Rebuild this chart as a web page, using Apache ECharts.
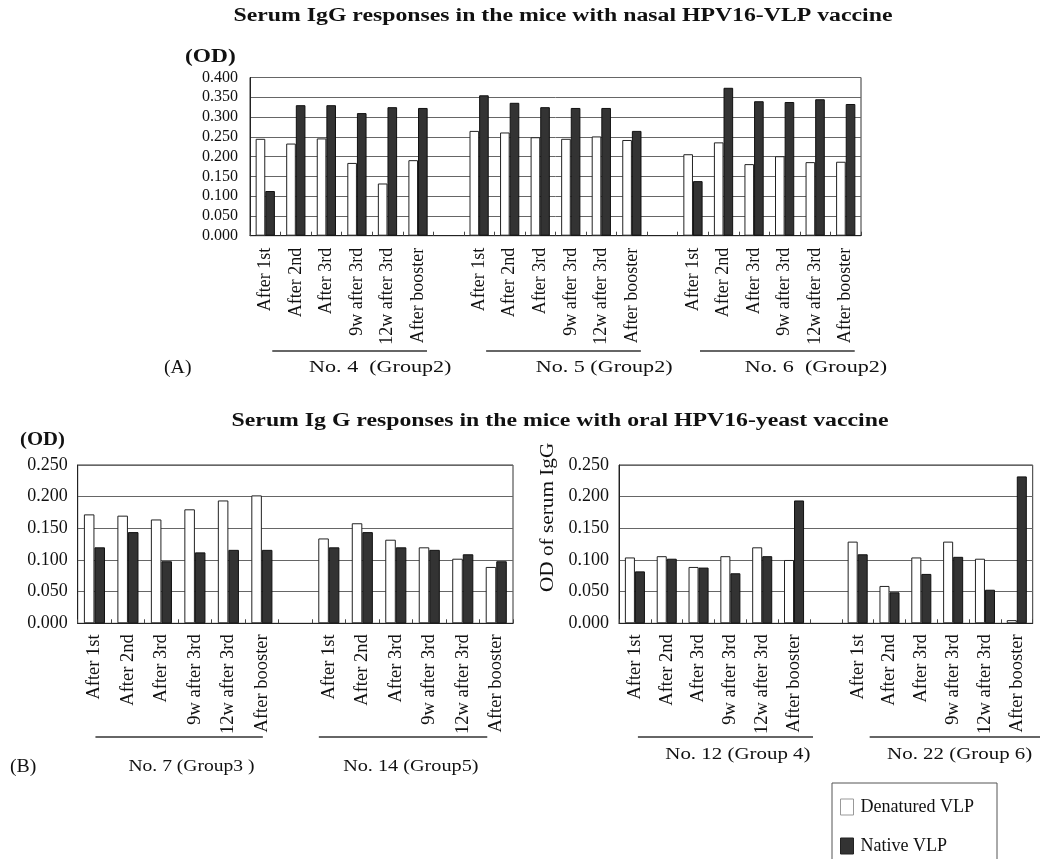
<!DOCTYPE html>
<html>
<head>
<meta charset="utf-8">
<script src="https://cdn.jsdelivr.net/npm/echarts@6/dist/echarts.min.js"></script>
<style>
  html, body { margin: 0; padding: 0; background: #fff; }
  #chart { width: 1040px; height: 859px; }
</style>
</head>
<body>
<div id="chart"></div>
<script>
// time points on every x axis
var timepoints = ['After 1st', 'After 2nd', 'After 3rd', '9w after 3rd', '12w after 3rd', 'After booster'];

// (A) nasal HPV16-VLP vaccine
var no4Denatured = [0.245, 0.233, 0.246, 0.184, 0.132, 0.191];
var no4Native    = [0.113, 0.330, 0.330, 0.310, 0.325, 0.323];
var no5Denatured = [0.265, 0.261, 0.249, 0.245, 0.251, 0.242];
var no5Native    = [0.355, 0.336, 0.325, 0.323, 0.323, 0.265];
var no6Denatured = [0.206, 0.236, 0.181, 0.201, 0.186, 0.187];
var no6Native    = [0.138, 0.374, 0.340, 0.338, 0.345, 0.333];

// (B) oral HPV16-yeast vaccine
var no7Denatured  = [0.172, 0.170, 0.164, 0.180, 0.194, 0.202];
var no7Native     = [0.120, 0.144, 0.098, 0.112, 0.116, 0.116];
var no14Denatured = [0.134, 0.158, 0.132, 0.120, 0.102, 0.089];
var no14Native    = [0.120, 0.144, 0.120, 0.116, 0.109, 0.098];
var no12Denatured = [0.104, 0.106, 0.089, 0.106, 0.120, 0.100];
var no12Native    = [0.082, 0.102, 0.088, 0.079, 0.106, 0.194];
var no22Denatured = [0.129, 0.059, 0.104, 0.129, 0.102, 0.005];
var no22Native    = [0.109, 0.049, 0.078, 0.105, 0.053, 0.232];

var groupLabelsA  = ['No. 4  (Group2)', 'No. 5 (Group2)', 'No. 6  (Group2)'];
var groupLabelsB1 = ['No. 7 (Group3 )', 'No. 14 (Group5)'];
var groupLabelsB2 = ['No. 12 (Group 4)', 'No. 22 (Group 6)'];

var FONT = '"Liberation Serif", "Times New Roman", serif';

// join groups with an empty category between them
function joinGroups(groups, filler) {
    var out = [];
    groups.forEach(function (g, i) {
        if (i > 0) out.push(typeof filler === 'function' ? filler(i) : filler);
        out = out.concat(g);
    });
    return out;
}
function gapName(i) { return new Array(i + 1).join(' '); }

function xAxisFor(gridIndex, groups, fontSize, margin) {
    return {
        type: 'category',
        gridIndex: gridIndex,
        data: joinGroups(groups.map(function () { return timepoints; }), gapName),
        axisLine: { show: true, lineStyle: { color: '#222', width: 1 } },
        axisTick: { show: true, inside: true, length: 4, interval: 0, lineStyle: { color: '#444' } },
        axisLabel: {
            interval: 0, rotate: 90, margin: margin,
            fontFamily: FONT, fontSize: fontSize, color: '#111'
        },
        splitLine: { show: false }
    };
}
function yAxisFor(gridIndex, max, fontSize, margin) {
    return {
        type: 'value',
        gridIndex: gridIndex,
        min: 0, max: max, interval: 0.05,
        axisLine: { show: true, lineStyle: { color: '#222' } },
        axisTick: { show: false },
        axisLabel: {
            margin: margin, fontFamily: FONT, fontSize: fontSize, color: '#111',
            formatter: function (v) { return v.toFixed(3); }
        },
        splitLine: { show: true, lineStyle: { color: '#666', width: 1 } }
    };
}
function barSeries(name, idx, data, dark) {
    return {
        name: name,
        type: 'bar',
        xAxisIndex: idx,
        yAxisIndex: idx,
        data: data,
        barGap: '0%',
        barCategoryGap: '37%',
        itemStyle: {
            color: dark ? '#333' : '#fff',
            borderColor: dark ? '#111' : '#222',
            borderWidth: 1
        },
        emphasis: { disabled: true },
        animation: false
    };
}
function gridAt(left, top, width, height) {
    return {
        left: left, top: top, width: width, height: height,
        show: true, borderColor: '#333', borderWidth: 1, backgroundColor: 'transparent',
        containLabel: false, outerBoundsMode: 'none'
    };
}
function legendAt(name, top, white) {
    return {
        left: 840, top: top, padding: 0,
        itemWidth: 13, itemHeight: 16,
        icon: 'rect', selectedMode: false,
        textStyle: { fontFamily: FONT, fontSize: 18, color: '#111', padding: [0, 0, 0, 2] },
        data: [{
            name: name,
            itemStyle: white ? { color: '#fff', borderColor: '#999', borderWidth: 1 }
                             : { color: '#333', borderColor: '#222', borderWidth: 1 }
        }]
    };
}
// text drawn a little wider than the font, like the printed figure
function txt(text, x, y, size, bold, align, scaleX, rotation) {
    return {
        type: 'text', silent: true,
        x: x, y: y, scaleX: scaleX || 1, rotation: rotation || 0,
        style: {
            text: text, fontFamily: FONT, fontSize: size, fontWeight: bold ? 'bold' : 'normal',
            fill: '#111', textAlign: align || 'left', textVerticalAlign: 'middle'
        }
    };
}

var chart = echarts.init(document.getElementById('chart'));
chart.setOption({
    backgroundColor: '#fff',
    animation: false,
    legend: [
        legendAt('Denatured VLP', 798, true),
        legendAt('Native VLP', 837, false)
    ],
    grid: [
        gridAt(250, 77.5, 611, 158.2),
        gridAt(77.7, 465, 435.3, 158.3),
        gridAt(619, 465, 413.7, 158.3)
    ],
    xAxis: [
        xAxisFor(0, [1, 2, 3], 18, 12),
        xAxisFor(1, [1, 2], 18.5, 11),
        xAxisFor(2, [1, 2], 18.5, 11)
    ],
    yAxis: [
        yAxisFor(0, 0.4, 16, 12),
        yAxisFor(1, 0.25, 18, 10),
        yAxisFor(2, 0.25, 18, 10)
    ],
    series: [
        barSeries('Denatured VLP', 0, joinGroups([no4Denatured, no5Denatured, no6Denatured], '-'), false),
        barSeries('Native VLP', 0, joinGroups([no4Native, no5Native, no6Native], '-'), true),
        barSeries('Denatured VLP', 1, joinGroups([no7Denatured, no14Denatured], '-'), false),
        barSeries('Native VLP', 1, joinGroups([no7Native, no14Native], '-'), true),
        barSeries('Denatured VLP', 2, joinGroups([no12Denatured, no22Denatured], '-'), false),
        barSeries('Native VLP', 2, joinGroups([no12Native, no22Native], '-'), true)
    ]
});

// group brackets and names under each x axis, placed from the axis scale
function catX(axisIdx, cat) {
    return chart.convertToPixel({ xAxisIndex: axisIdx }, cat);
}
var groupNotes = [
    // axis, labels, line y, label y, per group [line start dx, line end dx, label dx, scaleX]
    [0, groupLabelsA, 351, 368, [[7, 9, 115, 1.3], [7, 9, 125, 1.3], [7, 9, 123, 1.3]]],
    [1, groupLabelsB1, 737, 767, [[1, 1, 97, 1.15], [-10, -9, 82, 1.19]]],
    [2, groupLabelsB2, 737, 755, [[3, 19, 103, 1.23], [12, 24, 102, 1.23]]]
];
var elements = [];
groupNotes.forEach(function (n) {
    n[1].forEach(function (label, g) {
        var first = g * 7, d = n[4][g];
        var x0 = catX(n[0], first) + d[0];
        var x1 = catX(n[0], first + 5) + d[1];
        elements.push({
            type: 'line', silent: true,
            shape: { x1: x0, y1: n[2], x2: x1, y2: n[2] },
            style: { stroke: '#333', lineWidth: 1.5 }
        });
        elements.push(txt(label, catX(n[0], first) + d[2], n[3], 17, false, 'center', d[3]));
    });
});
elements.push(
    txt('Serum IgG responses in the mice with nasal HPV16-VLP vaccine', 563, 16, 18, true, 'center', 1.32),
    txt('(OD)', 185, 57, 18, true, 'left', 1.3),
    txt('(A)', 164, 368, 18, false, 'left', 1.1),
    txt('Serum Ig G responses in the mice with oral HPV16-yeast vaccine', 560, 421, 18, true, 'center', 1.32),
    txt('(OD)', 20, 440, 18, true, 'left', 1.15),
    txt('(B)', 10, 767, 18, false, 'left', 1.1),
    txt('OD of serum IgG', 548, 592, 18, false, 'left', 1.18, Math.PI / 2),
    {
        type: 'rect', silent: true,
        shape: { x: 832, y: 783, width: 165, height: 120 },
        style: { fill: 'none', stroke: '#555', lineWidth: 1 }
    }
);
chart.setOption({ graphic: { elements: elements } });
</script>
</body>
</html>
